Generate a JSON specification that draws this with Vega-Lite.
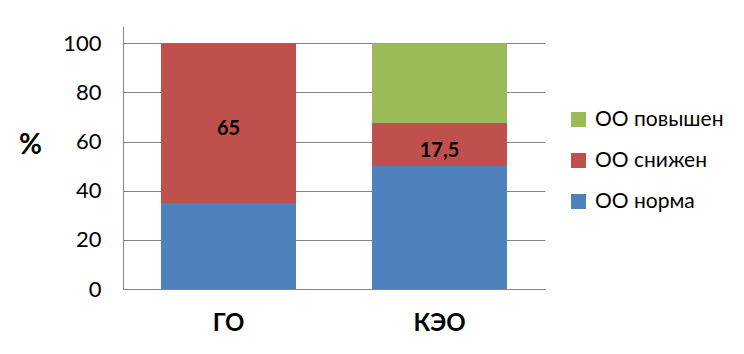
{
  "$schema": "https://vega.github.io/schema/vega-lite/v6.json",
  "width": 422,
  "height": 263,
  "autosize": "none",
  "padding": {"left": 123, "top": 26, "right": 199, "bottom": 65},
  "background": "white",
  "config": {"view": {"stroke": null}, "font": "Lato"},
  "data": {"values": [
    {"cat": "ГО", "type": "ОО норма", "order": 1, "value": 35, "label": ""},
    {"cat": "ГО", "type": "ОО снижен", "order": 2, "value": 65, "label": "65"},
    {"cat": "КЭО", "type": "ОО норма", "order": 1, "value": 50, "label": ""},
    {"cat": "КЭО", "type": "ОО снижен", "order": 2, "value": 17.5, "label": "17,5"},
    {"cat": "КЭО", "type": "ОО повышен", "order": 3, "value": 32.5, "label": ""}
  ]},
  "encoding": {
    "x": {"field": "cat", "type": "nominal", "sort": ["ГО", "КЭО"],
      "scale": {"paddingInner": 0.36, "paddingOuter": 0.18},
      "axis": {"title": null, "labelAngle": 0, "labelFontSize": 24, "labelFontWeight": "bold", "labelColor": "black", "ticks": false, "domainColor": "#868686", "labelPadding": 22, "labelFont": "Lato"}}
  },
  "layer": [
    {
      "mark": {"type": "bar"},
      "encoding": {
        "y": {"field": "value", "type": "quantitative", "stack": "zero",
          "scale": {"domain": [0, 107], "nice": false},
          "axis": {"values": [0, 20, 40, 60, 80, 100], "title": "%", "titleAngle": 0, "titleFontSize": 28, "titleFontWeight": "bold", "titleColor": "black", "titleX": -93, "titleY": 119, "titleAlign": "center", "titleBaseline": "middle", "labelFontSize": 22, "labelColor": "black", "labelPadding": 22, "ticks": false, "domainColor": "#868686", "gridColor": "#868686", "labelFont": "Lato"}},
        "color": {"field": "type", "type": "nominal",
          "scale": {"domain": ["ОО повышен", "ОО снижен", "ОО норма"], "range": ["#9BBB59", "#C0504D", "#4F81BD"]},
          "legend": {"title": null, "orient": "none", "legendX": 445, "legendY": 83, "symbolType": "square", "symbolSize": 225, "symbolStrokeWidth": 0, "labelFontSize": 21, "labelColor": "black", "rowPadding": 19, "labelOffset": 6, "labelFont": "Lato"}},
        "order": {"field": "order", "type": "quantitative"}
      }
    },
    {
      "transform": [
        {"stack": "value", "groupby": ["cat"], "sort": [{"field": "order"}], "as": ["v0", "v1"]},
        {"calculate": "(datum.v0 + datum.v1) / 2", "as": "mid"},
        {"filter": "datum.label != ''"}
      ],
      "mark": {"type": "text", "fontSize": 20, "fontWeight": "bold", "color": "black", "dy": 6, "font": "Lato"},
      "encoding": {
        "y": {"field": "mid", "type": "quantitative"},
        "text": {"field": "label"}
      }
    }
  ]
}
